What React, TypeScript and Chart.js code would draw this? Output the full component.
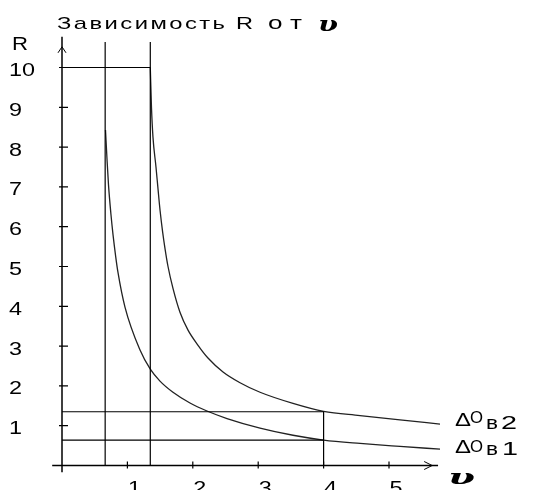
import React, { useEffect, useRef } from 'react';
import { Chart, registerables } from 'chart.js';

Chart.register(...registerables);

// Lower curve (ΔOв 1)
const curve1V = [0.665, 0.688, 0.711, 0.749, 0.78, 0.821, 0.856, 0.963, 1.193, 1.35, 1.498, 1.697, 1.957, 2.217, 2.523, 3.028, 3.532, 4.0, 4.557, 5.168, 5.78];
const curve1R = [8.43, 7.7, 7.05, 6.3, 5.8, 5.25, 4.85, 3.98, 2.9, 2.42, 2.12, 1.84, 1.57, 1.37, 1.18, 0.94, 0.76, 0.64, 0.555, 0.48, 0.41];
// Upper curve (ΔOв 2)
const curve2V = [1.35, 1.368, 1.391, 1.437, 1.468, 1.5, 1.54, 1.575, 1.621, 1.697, 1.804, 1.927, 2.08, 2.232, 2.462, 2.722, 3.028, 3.532, 4.0, 4.557, 5.168, 5.78];
const curve2R = [10.0, 9.0, 8.25, 7.5, 6.95, 6.4, 5.85, 5.45, 5.0, 4.45, 3.85, 3.4, 3.02, 2.7, 2.35, 2.08, 1.84, 1.56, 1.36, 1.255, 1.145, 1.04];

// Guide lines
const guideV = [0.66, 1.35, 4];
const guideR = [10, 1.35, 0.64];
const guideTop = 10.64;

const yTicks = [1, 2, 3, 4, 5, 6, 7, 8, 9, 10];
const xTicks = [1, 2, 3, 4, 5];
const yTickLabels = ['1', '2', '3', '4', '5', '6', '7', '8', '9', '10'];
const xTickLabels = ['1', '2', '3', '4', '5'];

const SANS = '"Liberation Sans", Arial, sans-serif';
const SERIF = '"DejaVu Serif", serif';

function fitText(ctx: CanvasRenderingContext2D, s: string, left: number, right: number, baseline: number, font: string, sx = 1.5) {
  ctx.save();
  ctx.font = font;
  ctx.textAlign = 'left';
  ctx.textBaseline = 'alphabetic';
  const w = ctx.measureText(s).width || 1;
  const n = Array.from(s).length;
  let scale = sx;
  let extra = 0;
  if (n === 1) {
    scale = (right - left) / w;
  } else {
    extra = ((right - left) / sx - w) / (n - 1);
    if (extra < 0) {
      extra = 0;
      scale = (right - left) / w;
    }
  }
  (ctx as any).letterSpacing = `${extra}px`;
  ctx.translate(left, baseline);
  ctx.scale(scale, 1);
  ctx.fillText(s, 0, 0);
  ctx.restore();
}

function stretchText(ctx: CanvasRenderingContext2D, s: string, x: number, baseline: number, font: string, sx: number, align: CanvasTextAlign) {
  ctx.save();
  ctx.font = font;
  ctx.textAlign = align;
  ctx.textBaseline = 'alphabetic';
  ctx.translate(x, baseline);
  ctx.scale(sx, 1);
  ctx.fillText(s, 0, 0);
  ctx.restore();
}

const decorPlugin = {
  id: 'decor',
  afterDatasetsDraw(chart: any) {
    const ctx: CanvasRenderingContext2D = chart.ctx;
    const xs = chart.scales.x;
    const ys = chart.scales.y;
    const px = (v: number) => xs.getPixelForValue(v);
    const py = (r: number) => ys.getPixelForValue(r);
    ctx.save();
    ctx.strokeStyle = '#000';
    ctx.fillStyle = '#000';
    ctx.lineWidth = 1.5;
    const x0 = px(0);
    const y0 = py(0);
    // axes
    ctx.beginPath();
    ctx.moveTo(x0, py(-0.17));
    ctx.lineTo(x0, py(10.77));
    ctx.moveTo(px(-0.15), y0);
    ctx.lineTo(px(5.75), y0);
    ctx.stroke();
    // arrows
    ctx.lineWidth = 1;
    const ay = py(10.52);
    ctx.beginPath();
    ctx.moveTo(x0 - 4, ay + 6);
    ctx.lineTo(x0, ay);
    ctx.lineTo(x0 + 4, ay + 6);
    const ax = px(5.66);
    ctx.moveTo(ax - 8, y0 - 4);
    ctx.lineTo(ax, y0);
    ctx.lineTo(ax - 8, y0 + 4);
    ctx.stroke();
    // ticks
    ctx.lineWidth = 1.2;
    ctx.beginPath();
    yTicks.forEach((t) => {
      ctx.moveTo(x0 - 3, py(t));
      ctx.lineTo(x0 + 6, py(t));
    });
    xTicks.forEach((t) => {
      ctx.moveTo(px(t), y0 - 4);
      ctx.lineTo(px(t), y0 + 3);
    });
    ctx.stroke();
    // tick labels
    yTicks.forEach((t, i) => {
      stretchText(ctx, yTickLabels[i], 9, py(t) + 8.5, `18px ${SANS}`, 1.3, 'left');
    });
    xTicks.forEach((t, i) => {
      stretchText(ctx, xTickLabels[i], px(t) + 7, y0 + 28, `18px ${SANS}`, 1.3, 'center');
    });
    // axis names
    fitText(ctx, 'R', 12, 28, 50, `18px ${SANS}`);
    fitText(ctx, 'υ', 448, 475, 484, `bold italic 21px ${SERIF}`);
    // title
    fitText(ctx, 'Зависимость', 57, 225, 29, `17px ${SANS}`, 1.4);
    fitText(ctx, 'R', 236, 253, 29, `17px ${SANS}`);
    fitText(ctx, 'от', 268, 302, 29, `18px ${SANS}`, 1.45);
    fitText(ctx, 'υ', 318, 338, 31, `bold italic 20px ${SERIF}`);
    // series labels
    fitText(ctx, 'Δ', 455, 471, 426, `19px ${SANS}`);
    fitText(ctx, 'O', 470, 483, 423, `16px ${SANS}`);
    fitText(ctx, 'в', 486, 498, 429, `18px ${SANS}`);
    fitText(ctx, '2', 501, 517, 429, `19px ${SANS}`);
    fitText(ctx, 'Δ', 455, 471, 453, `19px ${SANS}`);
    fitText(ctx, 'O', 470, 483, 452, `16px ${SANS}`);
    fitText(ctx, 'в', 486, 498, 455, `18px ${SANS}`);
    fitText(ctx, '1', 502, 518, 455, `19px ${SANS}`);
    ctx.restore();
  },
};

export default function App() {
  const ref = useRef<HTMLCanvasElement | null>(null);
  useEffect(() => {
    if (!ref.current) return;
    const pts = (vs: number[], rs: number[]) => vs.map((v, i) => ({ x: v, y: rs[i] }));
    const lineDs = (data: { x: number; y: number }[]) => ({
      data,
      borderColor: '#000',
      borderWidth: 1.2,
      pointRadius: 0,
      showLine: true,
      fill: false,
      clip: false as any,
    });
    const curveDs = (data: { x: number; y: number }[]) => ({
      data,
      borderColor: '#222',
      borderWidth: 1.3,
      pointRadius: 0,
      showLine: true,
      fill: false,
      cubicInterpolationMode: 'monotone' as const,
      clip: false as any,
    });
    const chart = new Chart(ref.current, {
      type: 'scatter',
      data: {
        datasets: [
          lineDs([{ x: guideV[0], y: 0 }, { x: guideV[0], y: guideTop }]),
          lineDs([{ x: guideV[1], y: 0 }, { x: guideV[1], y: guideTop }]),
          lineDs([{ x: 0, y: guideR[0] }, { x: guideV[1], y: guideR[0] }]),
          lineDs([{ x: 0, y: guideR[1] }, { x: guideV[2], y: guideR[1] }]),
          lineDs([{ x: 0, y: guideR[2] }, { x: guideV[2], y: guideR[2] }]),
          lineDs([{ x: guideV[2], y: 0 }, { x: guideV[2], y: guideR[1] }]),
          curveDs(pts(curve1V, curve1R)),
          curveDs(pts(curve2V, curve2R)),
        ] as any,
      },
      options: {
        responsive: false,
        animation: false,
        layout: { padding: { left: 48.92, right: 45.9, top: 35.66, bottom: 12.56 } },
        plugins: { legend: { display: false }, tooltip: { enabled: false } },
        events: [],
        scales: {
          x: { type: 'linear', min: -0.2, max: 6.5, display: false },
          y: { type: 'linear', min: -0.3, max: 10.8, display: false },
        },
      },
      plugins: [decorPlugin],
    });
    return () => chart.destroy();
  }, []);
  return (
    <div style={{ position: 'absolute', left: 0, top: 0, width: 533, height: 490, background: '#fff' }}>
      <canvas ref={ref} width={533} height={490} style={{ width: 533, height: 490, display: 'block' }} />
    </div>
  );
}
